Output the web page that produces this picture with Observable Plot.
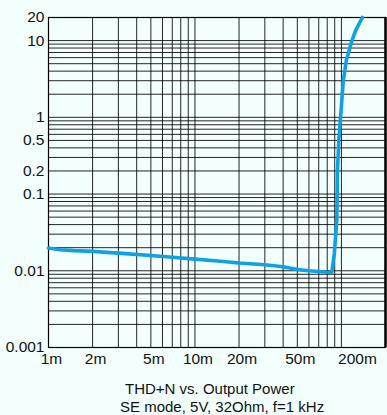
<!DOCTYPE html>
<html><head><meta charset="utf-8">
<script src="https://cdn.jsdelivr.net/npm/d3@7"></script>
<script src="https://cdn.jsdelivr.net/npm/@observablehq/plot@0.6"></script>
<style>
html,body{margin:0;padding:0;background:#f2fffd;}
body{width:387px;height:415px;overflow:hidden;font-family:"Liberation Sans",Arial,sans-serif;}
#chart svg{display:block;}
#cap{position:relative;height:43px;color:#111;font-size:15px;line-height:17px;}
#cap div{position:absolute;white-space:nowrap;}
</style></head><body>
<div id="chart"></div>
<div id="cap"><div id="t1" style="left:125px;top:8px">THD+N vs. Output Power</div><div id="t2" style="left:120px;top:26px">SE mode, 5V, 32Ohm, f=1 kHz</div></div>
<script>
// Output power (W) and THD+N (%)
const power = [0.001, 0.0012, 0.0015, 0.002, 0.003, 0.005, 0.007, 0.01, 0.015, 0.02, 0.03, 0.04, 0.05, 0.06, 0.07, 0.084, 0.086, 0.0895, 0.093, 0.094, 0.096, 0.0995, 0.103, 0.108, 0.118, 0.125, 0.139];
const thd   = [0.0198, 0.0188, 0.0183, 0.0179, 0.0170, 0.0158, 0.0150, 0.0142, 0.0133, 0.0126, 0.0120, 0.0113, 0.0104, 0.0100, 0.0098, 0.0095, 0.0096, 0.0168, 0.0453, 0.203, 0.50, 1.23, 3.0, 5.5, 10, 13.5, 20];

const xDomain = [0.001, 0.2];
const yDomain = [0.001, 20];
const xTicks = [0.001, 0.002, 0.005, 0.01, 0.02, 0.05];
const xTickLabels = ["1m", "2m", "5m", "10m", "20m", "50m"];
const xEndLabel = ["200m"];
const yTicks = [0.001, 0.01, 0.1, 0.2, 0.5, 1, 10, 20];
const yTickLabels = ["0.001", "0.01", "0.1", "0.2", "0.5", "1", "10", "20"];

const data = power.map((p, i) => ({p, v: thd[i]}));

const chart = Plot.plot({
  width: 387,
  height: 372,
  marginLeft: 48,
  marginRight: 2,
  marginTop: 17,
  marginBottom: 25,
  style: {background: "#f2fffd", fontFamily: "Liberation Sans, Arial, sans-serif", fontSize: "15px", color: "#111"},
  x: {type: "log", domain: xDomain, axis: null},
  y: {type: "log", domain: yDomain, axis: null},
  marks: [
    Plot.gridX({stroke: "#000", strokeOpacity: 0.85, strokeWidth: 1}),
    Plot.gridY({stroke: "#000", strokeOpacity: 0.85, strokeWidth: 1}),
    Plot.frame({stroke: "#000", strokeWidth: 1.2}),
    Plot.ruleX([xDomain[1]], {stroke: "#000", strokeWidth: 2.5}),
    Plot.text(xTicks, {x: d => d, text: (d, i) => xTickLabels[i], frameAnchor: "bottom", dy: 16, dx: 3, fontSize: 15.5, fill: "#111"}),
    Plot.text(xEndLabel, {x: () => xDomain[1], frameAnchor: "bottom", dy: 16, dx: -28, fontSize: 15.5, fill: "#111"}),
    Plot.text(yTicks, {y: d => d, text: (d, i) => yTickLabels[i], frameAnchor: "left", dx: -4, textAnchor: "end", fontSize: 15.5, fill: "#111"}),
    Plot.line(data, {x: "p", y: "v", stroke: "#0ea1e4", strokeWidth: 3.6, strokeLinejoin: "round", strokeLinecap: "round"})
  ]
});
document.getElementById("chart").appendChild(chart);
</script>
</body></html>
